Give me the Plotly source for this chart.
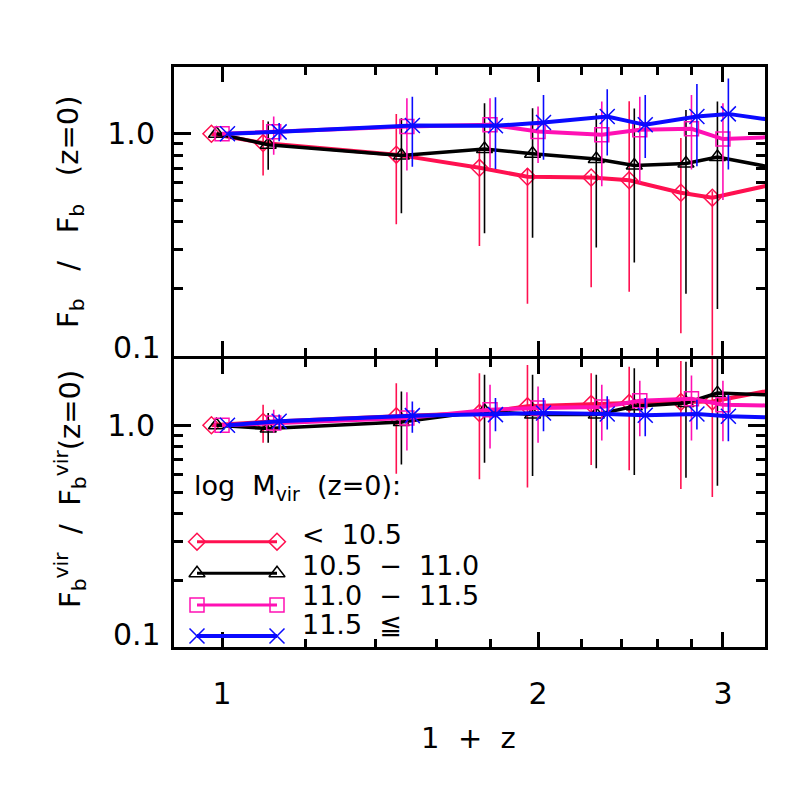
import math

import plotly.graph_objects as go
from plotly.subplots import make_subplots


# -------------------------------------------------
# Data
# -------------------------------------------------

one_plus_z = [1.0, 1.12, 1.5, 1.8, 2.0, 2.3, 2.5, 2.8, 3.0, 3.5]

mass_bins = ["<\u00a0\u00a010.5", "10.5\u00a0\u00a0\u2212\u00a0\u00a011.0",
             "11.0\u00a0\u00a0\u2212\u00a0\u00a011.5", "11.5\u00a0\u00a0\u2266"]

# top panel: F_b / F_b(z=0)  (median, lower and upper spread)
fb_m1 = [1.0, 0.908, 0.805, 0.702, 0.64, 0.635, 0.617, 0.542, 0.515, 0.604]
fb_m1_lo = [1.0, 0.648, 0.391, 0.312, 0.171, 0.203, 0.194, 0.126, 0.05, None]
fb_m1_hi = [1.0, 1.155, 1.229, 0.85, 0.70, 0.66, 1.40, 0.956, 0.55, None]

fb_m2 = [1.0, 0.893, 0.797, 0.854, 0.813, 0.77, 0.719, 0.734, 0.786, 0.683]
fb_m2_lo = [1.0, 0.689, 0.438, 0.356, 0.34, 0.307, 0.263, 0.19, 0.162, None]
fb_m2_hi = [1.0, 1.135, 1.176, 1.373, 1.304, 1.238, 1.30, 1.28, 1.396, None]

fb_m3 = [1.0, 1.02, 1.078, 1.097, 1.024, 0.99, 1.042, 1.053, 0.946, 0.975]
fb_m3_lo = [1.0, 0.805, 0.683, 0.702, 0.739, 0.58, 0.60, 0.69, 0.502, None]
fb_m3_hi = [1.0, 1.196, 1.445, 1.445, 1.326, 1.396, 1.47, 1.496, 1.373, None]

fb_m4 = [1.0, 1.02, 1.09, 1.086, 1.124, 1.196, 1.097, 1.196, 1.229, 1.109]
fb_m4_lo = [1.0, 0.924, 0.709, 0.694, 0.764, 0.797, 0.778, 0.714, 0.69, None]
fb_m4_hi = [1.0, 1.117, 1.47, 1.46, 1.496, 1.586, 1.496, 1.676, 1.777, None]

# bottom panel: F_b^vir / F_b^vir(z=0)
fv_m1 = [1.0, 1.034, 1.097, 1.135, 1.217, 1.246, 1.259, 1.272, 1.281, 1.47]
fv_m1_lo = [1.0, 0.833, 0.605, 0.571, 0.524, 0.662, 0.626, 0.516, 0.475, None]
fv_m1_hi = [1.0, 1.238, 1.548, 1.716, 1.87, 1.716, 1.838, 1.95, 2.5, None]

fv_m2 = [1.0, 0.966, 1.034, 1.16, 1.117, 1.117, 1.217, 1.26, 1.396, 1.36]
fv_m2_lo = [1.0, 0.833, 0.666, 0.678, 0.59, 0.64, 0.597, 0.58, 0.533, None]
fv_m2_hi = [1.0, 1.135, 1.42, 1.688, 1.688, 1.688, 1.806, 1.936, 2.2, None]

fv_m3 = [1.0, 1.024, 1.078, 1.176, 1.196, 1.21, 1.29, 1.317, 1.238, 1.223]
fv_m3_lo = [1.0, 0.924, 0.77, 0.786, 0.833, 0.854, 0.893, 0.854, 0.848, None]
fv_m3_hi = [1.0, 1.176, 1.41, 1.522, 1.496, 1.522, 1.586, 1.676, 1.586, None]

fv_m4 = [1.0, 1.042, 1.105, 1.117, 1.135, 1.124, 1.109, 1.124, 1.097, 1.076]
fv_m4_lo = [1.0, 0.956, 0.924, 0.94, 0.94, 0.956, 0.893, 0.956, 0.848, None]
fv_m4_hi = [1.0, 1.117, 1.28, 1.326, 1.326, 1.35, 1.326, 1.304, 1.373, None]


# -------------------------------------------------
# Styling
# -------------------------------------------------

FONT = "DejaVu Sans"

styles = [
    dict(color="#ff1050", symbol="diamond-open", size=13, width=4),
    dict(color="#000000", symbol="triangle-up-open", size=14, width=3.5),
    dict(color="#ff10b4", symbol="square-open", size=14, width=4),
    dict(color="#0a0aff", symbol="x-thin-open", size=15, width=4),
]

# small multiplicative shift in 1+z so the error bars do not overlap
dodge = [0.977, 0.988, 1.0, 1.012]

# plot area in window pixels (786 x 786), page body adds an 8px offset
L, R, T, B = 174, 765, 67, 647
OFF = 8
LW = 3


def paper_x(px):
    return (px - L) / (R - L)


def paper_y(py):
    return (B - py) / (B - T)


def add_panel(fig, row, meds, los, his):
    for st, k, med, lo, hi in zip(styles, dodge, meds, los, his):
        x = [v * k for v in one_plus_z]
        plus = [(h - m) if h is not None else 0 for m, h in zip(med, hi)]
        minus = [(m - l) if l is not None else 0 for m, l in zip(med, lo)]
        fig.add_trace(
            go.Scatter(
                x=x,
                y=med,
                mode="lines+markers",
                line=dict(color=st["color"], width=st["width"]),
                marker=dict(
                    symbol=st["symbol"],
                    size=st["size"],
                    color=st["color"],
                    line=dict(color=st["color"], width=1.5)
                ),
                error_y=dict(
                    type="data",
                    symmetric=False,
                    array=plus,
                    arrayminus=minus,
                    color=st["color"],
                    thickness=1.6,
                    width=0
                ),
                showlegend=False,
                hoverinfo="skip"
            ),
            row=row, col=1
        )


# -------------------------------------------------
# Figure
# -------------------------------------------------

fig = make_subplots(rows=2, cols=1, shared_xaxes=True, vertical_spacing=0)

add_panel(fig, 1,
          [fb_m1, fb_m2, fb_m3, fb_m4],
          [fb_m1_lo, fb_m2_lo, fb_m3_lo, fb_m4_lo],
          [fb_m1_hi, fb_m2_hi, fb_m3_hi, fb_m4_hi])

add_panel(fig, 2,
          [fv_m1, fv_m2, fv_m3, fv_m4],
          [fv_m1_lo, fv_m2_lo, fv_m3_lo, fv_m4_lo],
          [fv_m1_hi, fv_m2_hi, fv_m3_hi, fv_m4_hi])

for row in (1, 2):
    fig.update_xaxes(
        type="log",
        range=[math.log10(0.9), math.log10(3.29)],
        tickmode="array",
        tickvals=[1, 2, 3],
        ticktext=["1", "2", "3"],
        ticks="inside",
        ticklen=15,
        tickwidth=2.5,
        tickcolor="black",
        minor=dict(
            tickmode="array",
            tickvals=[1.2, 1.4, 1.6, 1.8, 2.2, 2.4, 2.6, 2.8],
            ticks="inside",
            ticklen=8,
            tickwidth=2.5,
            tickcolor="black",
            showgrid=False
        ),
        showline=True,
        linewidth=LW,
        linecolor="black",
        mirror="allticks",
        showgrid=False,
        zeroline=False,
        tickfont=dict(family=FONT, size=30, color="black"),
        ticklabelstandoff=18,
        row=row, col=1
    )
    fig.update_yaxes(
        type="log",
        range=[-1, math.log10(2.0)],
        tickmode="array",
        tickvals=[0.1, 1.0],
        ticktext=["", "1.0"],
        ticks="inside",
        ticklen=17,
        tickwidth=2.5,
        tickcolor="black",
        minor=dict(
            tickmode="array",
            tickvals=[0.2, 0.3, 0.4, 0.5, 0.6, 0.7, 0.8, 0.9],
            ticks="inside",
            ticklen=9,
            tickwidth=2.5,
            tickcolor="black",
            showgrid=False
        ),
        showline=True,
        linewidth=LW,
        linecolor="black",
        mirror="allticks",
        showgrid=False,
        zeroline=False,
        tickfont=dict(family=FONT, size=30, color="black"),
        ticklabelstandoff=10,
        row=row, col=1
    )

fig.update_xaxes(showticklabels=False, row=1, col=1)

# let the two panels share one frame line at the junction
half = (LW / 2) / (B - T)
fig.update_yaxes(domain=[0.5 + half, 1.0], row=1, col=1)
fig.update_yaxes(domain=[0.0, 0.5 - half], row=2, col=1)

# -------------------------------------------------
# Legend (drawn by hand on a pixel-scaled overlay axis)
# -------------------------------------------------

fig.update_layout(
    xaxis3=dict(domain=[0, 1], anchor="y3", range=[L, R], visible=False),
    yaxis3=dict(domain=[0, 1], anchor="x3", range=[B, T], visible=False),
)

leg_x = [197, 277]
leg_y = [541.7, 573.3, 605.0, 636.0]
leg_text_y = [534, 565, 595, 624]
leg_widths = [3, 3, 3, 4]

for st, ly, lw in zip(styles, leg_y, leg_widths):
    fig.add_trace(go.Scatter(
        x=leg_x,
        y=[ly, ly],
        xaxis="x3",
        yaxis="y3",
        mode="lines+markers",
        line=dict(color=st["color"], width=lw),
        marker=dict(symbol=st["symbol"], size=st["size"], color=st["color"],
                    line=dict(color=st["color"], width=1.5)),
        showlegend=False,
        hoverinfo="skip"
    ))

annotations = [
    dict(text="log\u00a0\u00a0M<sub>vir</sub>\u00a0\u00a0(z=0):",
         x=paper_x(192), y=paper_y(487), xanchor="left", yanchor="middle",
         font=dict(size=27)),
]
for label, ty in zip(mass_bins, leg_text_y):
    annotations.append(dict(text=label, x=paper_x(300), y=paper_y(ty),
                            xanchor="left", yanchor="middle",
                            font=dict(size=27)))

# "0.1" labels sit a little above their ticks in the original
for ty in (347, 634):
    annotations.append(dict(text="0.1", x=paper_x(163), y=paper_y(ty),
                            xanchor="right", yanchor="middle",
                            font=dict(size=30)))

# axis titles
annotations += [
    dict(text="F<sub>b</sub>\u00a0\u00a0\u00a0/\u00a0\u00a0\u00a0F<sub>b</sub>"
              "\u00a0\u00a0\u00a0(z=0)",
         x=paper_x(70), y=paper_y(212), textangle=-90,
         xanchor="center", yanchor="middle", font=dict(size=29)),
    dict(text="F<sub>b</sub><sup>vir</sup>\u00a0\u00a0/\u00a0\u00a0"
              "F<sub>b</sub><sup>vir</sup>(z=0)",
         x=paper_x(70), y=paper_y(489), textangle=-90,
         xanchor="center", yanchor="middle", font=dict(size=29)),
    dict(text="1\u00a0\u00a0+\u00a0\u00a0z",
         x=paper_x(468), y=paper_y(738),
         xanchor="center", yanchor="middle", font=dict(size=29)),
]

for a in annotations:
    a.update(xref="paper", yref="paper", showarrow=False)
    a["font"].update(family=FONT, color="black")

fig.update_layout(
    width=786,
    height=786,
    margin=dict(l=L - OFF, r=786 - R + OFF, t=T - OFF, b=786 - B + OFF),
    paper_bgcolor="white",
    plot_bgcolor="rgba(0,0,0,0)",
    font=dict(family=FONT, color="black"),
    annotations=annotations,
    showlegend=False
)

fig.write_html("out.html")
